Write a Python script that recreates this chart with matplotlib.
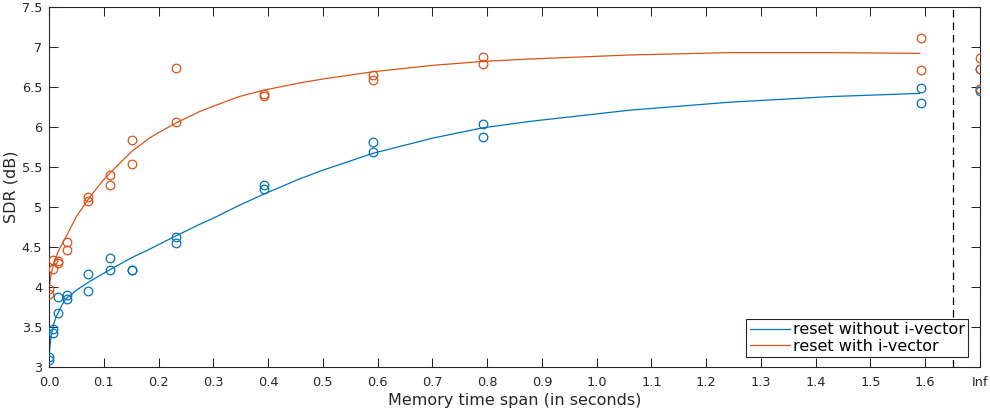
import numpy as np
import matplotlib
matplotlib.use("Agg")
import matplotlib.pyplot as plt

plt.rcParams['font.family'] = ['DejaVu Sans']

# ---- data ----
x_pts = [0.0, 0.008, 0.016, 0.032, 0.072, 0.112, 0.152, 0.232, 0.392, 0.592, 0.792, 1.592]
blue_a = [3.13, 3.48, 3.87, 3.90, 4.16, 4.36, 4.21, 4.62, 5.28, 5.81, 6.04, 6.49]
blue_b = [3.09, 3.42, 3.67, 3.85, 3.95, 4.21, 4.21, 4.55, 5.23, 5.69, 5.88, 6.30]
orange_a = [3.97, 4.34, 4.33, 4.56, 5.12, 5.40, 5.84, 6.74, 6.41, 6.65, 6.88, 7.11]
orange_b = [3.91, 4.23, 4.30, 4.46, 5.07, 5.28, 5.54, 6.06, 6.39, 6.59, 6.79, 6.71]

inf_pos = 1.7
blue_inf = [6.72, 6.47, 6.45]
orange_inf = [6.86, 6.72, 6.48]

fit_x = [0.0, 0.002, 0.004, 0.008, 0.012, 0.016, 0.024, 0.032, 0.05, 0.072, 0.097,
         0.112, 0.152, 0.183, 0.2, 0.232, 0.274, 0.3, 0.347, 0.392, 0.457, 0.5, 0.591,
         0.7, 0.792, 0.878, 1.06, 1.243, 1.426, 1.59]
fit_blue = [3.12, 3.28, 3.39, 3.52, 3.61, 3.67, 3.78, 3.86, 3.96, 4.06, 4.16,
            4.22, 4.37, 4.47, 4.53, 4.64, 4.78, 4.86, 5.02, 5.16, 5.35, 5.46, 5.67,
            5.86, 5.99, 6.07, 6.21, 6.31, 6.38, 6.42]
fit_orange = [3.98, 4.08, 4.16, 4.28, 4.36, 4.43, 4.54, 4.64, 4.88, 5.10, 5.32,
              5.43, 5.70, 5.86, 5.93, 6.05, 6.19, 6.26, 6.38, 6.46, 6.55, 6.60, 6.69,
              6.77, 6.82, 6.85, 6.90, 6.93, 6.93, 6.92]

x_ticks = [0.0, 0.1, 0.2, 0.3, 0.4, 0.5, 0.6, 0.7, 0.8, 0.9, 1.0, 1.1, 1.2, 1.3, 1.4, 1.5, 1.6, 1.7]
x_ticklabels = ["0.0", "0.1", "0.2", "0.3", "0.4", "0.5", "0.6", "0.7", "0.8", "0.9",
                "1.0", "1.1", "1.2", "1.3", "1.4", "1.5", "1.6", "Inf"]
y_ticks = [3, 3.5, 4, 4.5, 5, 5.5, 6, 6.5, 7, 7.5]
y_ticklabels = ["3", "3.5", "4", "4.5", "5", "5.5", "6", "6.5", "7", "7.5"]

BLUE = '#0072BD'
ORANGE = '#D95319'
DARK = '#262626'

fig = plt.figure(figsize=(9.9, 4.11), dpi=100)
ax = fig.add_axes([49/990, 1-367/411, 931/990, 360/411])

ms = 6.2
for ys in (blue_a, blue_b):
    ax.plot(x_pts, ys, 'o', mfc='none', mec=BLUE, ms=ms, mew=0.9, zorder=3)
ax.plot([inf_pos]*len(blue_inf), blue_inf, 'o', mfc='none', mec=BLUE, ms=ms, mew=0.9, zorder=3)
l1, = ax.plot(fit_x, fit_blue, '-', color=BLUE, lw=0.9, zorder=2, label='reset without i-vector')

for ys in (orange_a, orange_b):
    ax.plot(x_pts, ys, 'o', mfc='none', mec=ORANGE, ms=ms, mew=0.9, zorder=3)
ax.plot([inf_pos]*len(orange_inf), orange_inf, 'o', mfc='none', mec=ORANGE, ms=ms, mew=0.9, zorder=3)
l2, = ax.plot(fit_x, fit_orange, '-', color=ORANGE, lw=0.9, zorder=2, label='reset with i-vector')

ax.axvline(1.65, color='black', ls=(0, (6, 4)), lw=0.9, zorder=1)

ax.set_xlim(0, 1.7)
ax.set_ylim(3, 7.5)
ax.set_xticks(x_ticks)
ax.set_xticklabels(x_ticklabels)
ax.set_yticks(y_ticks)
ax.set_yticklabels(y_ticklabels)
ax.tick_params(direction='in', length=6.5, width=0.75, top=True, right=True,
               labelsize=9.3, colors=DARK)
ax.tick_params(axis='y', pad=5)
ax.tick_params(axis='x', pad=6.5)
for s in ax.spines.values():
    s.set_color(DARK)
    s.set_linewidth(0.8)

ax.set_xlabel('Memory time span (in seconds)', fontsize=11.5, color=DARK, labelpad=3)
ax.set_ylabel('SDR (dB)', fontsize=11.5, color=DARK, labelpad=2.5)

leg = ax.legend(handles=[l1, l2], loc='lower right', fontsize=11.5, frameon=True,
                fancybox=False, framealpha=1, edgecolor=DARK, borderpad=0.2,
                handlelength=2.5, handletextpad=0.2, labelspacing=0.1,
                bbox_to_anchor=(1 - 12/931, 10/360), borderaxespad=0)
leg.get_frame().set_linewidth(0.8)

fig.savefig('out.png', dpi=100)
